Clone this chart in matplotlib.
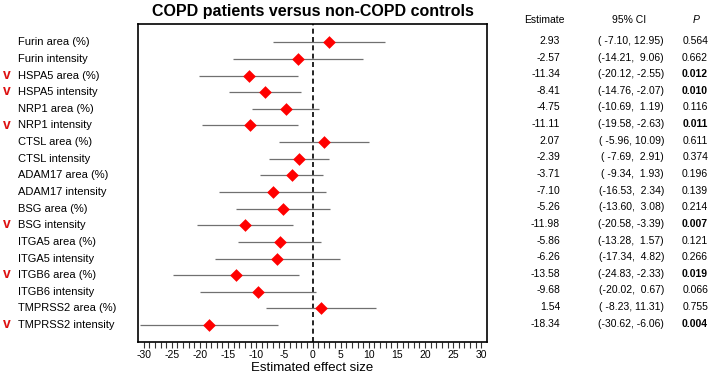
import matplotlib.pyplot as plt

labels = ['Furin area (%)', 'Furin intensity', 'HSPA5 area (%)', 'HSPA5 intensity',
          'NRP1 area (%)', 'NRP1 intensity', 'CTSL area (%)', 'CTSL intensity',
          'ADAM17 area (%)', 'ADAM17 intensity', 'BSG area (%)', 'BSG intensity',
          'ITGA5 area (%)', 'ITGA5 intensity', 'ITGB6 area (%)', 'ITGB6 intensity',
          'TMPRSS2 area (%)', 'TMPRSS2 intensity']
estimate = [2.93, -2.57, -11.34, -8.41, -4.75, -11.11, 2.07, -2.39, -3.71, -7.10,
            -5.26, -11.98, -5.86, -6.26, -13.58, -9.68, 1.54, -18.34]
ci_low = [-7.10, -14.21, -20.12, -14.76, -10.69, -19.58, -5.96, -7.69, -9.34, -16.53,
          -13.60, -20.58, -13.28, -17.34, -24.83, -20.02, -8.23, -30.62]
ci_high = [12.95, 9.06, -2.55, -2.07, 1.19, -2.63, 10.09, 2.91, 1.93, 2.34,
           3.08, -3.39, 1.57, 4.82, -2.33, 0.67, 11.31, -6.06]
pvals = ['0.564', '0.662', '0.012', '0.010', '0.116', '0.011', '0.611', '0.374', '0.196',
         '0.139', '0.214', '0.007', '0.121', '0.266', '0.019', '0.066', '0.755', '0.004']

plt.rcParams['font.family'] = ['Liberation Sans', 'DejaVu Sans']
plt.rcParams['axes.unicode_minus'] = False

fig = plt.figure(figsize=(7.09, 3.74), dpi=100)
# axes box: x 138..487 px, y 24..342 px
ax = fig.add_axes([138 / 709, 1 - 342 / 374, 349 / 709, 318 / 374])

n = len(labels)
ypos = [n - i for i in range(n)]

ax.hlines(ypos, ci_low, ci_high, color='#707070', lw=0.9, zorder=2)
ax.scatter(estimate, ypos, marker='D', s=42, color='red', zorder=3, linewidths=0)
ax.axvline(0, color='black', lw=1.2, ls=(0, (3, 2)), zorder=1)

ax.set_xlim(-31, 31)
ax.set_ylim(-0.02, n + 1.1)
ax.set_yticks([])
ax.set_xticks(range(-30, 31, 5))
ax.set_xticks(range(-30, 31, 1), minor=True)
ax.tick_params(axis='x', which='both', length=4, width=0.8, labelsize=7.5, pad=2, color='#333333')
for sp in ax.spines.values():
    sp.set_linewidth(1.2)
ax.set_xlabel('Estimated effect size', fontsize=9.5, labelpad=1)
ax.set_title('COPD patients versus non-COPD controls', fontsize=11.5, fontweight='bold', pad=6)

ax_w = 349


def fx(px):
    # figure pixel x -> axes fraction
    return (px - 138) / ax_w


tr = ax.get_yaxis_transform()
for y, lab, p in zip(ypos, labels, pvals):
    ax.text(fx(18), y, lab, fontsize=8, va='center', ha='left', transform=tr, clip_on=False)
    if float(p) < 0.05:
        ax.text(fx(3), y + 0.05, 'v', fontsize=10, fontweight='bold', color='#dd1111',
                va='center', ha='left', transform=tr, clip_on=False)

# table on the right
hy = n + 1.35
ax.text(fx(544), hy, 'Estimate', fontsize=7.5, ha='center', va='center', transform=tr, clip_on=False)
ax.text(fx(629), hy, '95% CI', fontsize=7.5, ha='center', va='center', transform=tr, clip_on=False)
ax.text(fx(696), hy, 'P', fontsize=7.5, ha='center', va='center', style='italic', transform=tr, clip_on=False)
for y, est, lo, hi, p in zip(ypos, estimate, ci_low, ci_high, pvals):
    ax.text(fx(560), y + 0.08, f'{est:.2f}', fontsize=7.5, ha='right', va='center', transform=tr, clip_on=False)
    ax.text(fx(664), y + 0.08, f'({lo:6.2f}, {hi:5.2f})', fontsize=7.5, ha='right', va='center',
            transform=tr, clip_on=False)
    ax.text(fx(708), y + 0.08, p, fontsize=7.5, ha='right', va='center', transform=tr, clip_on=False,
            fontweight='bold' if float(p) < 0.05 else 'normal')

fig.savefig('out.png', dpi=100)
